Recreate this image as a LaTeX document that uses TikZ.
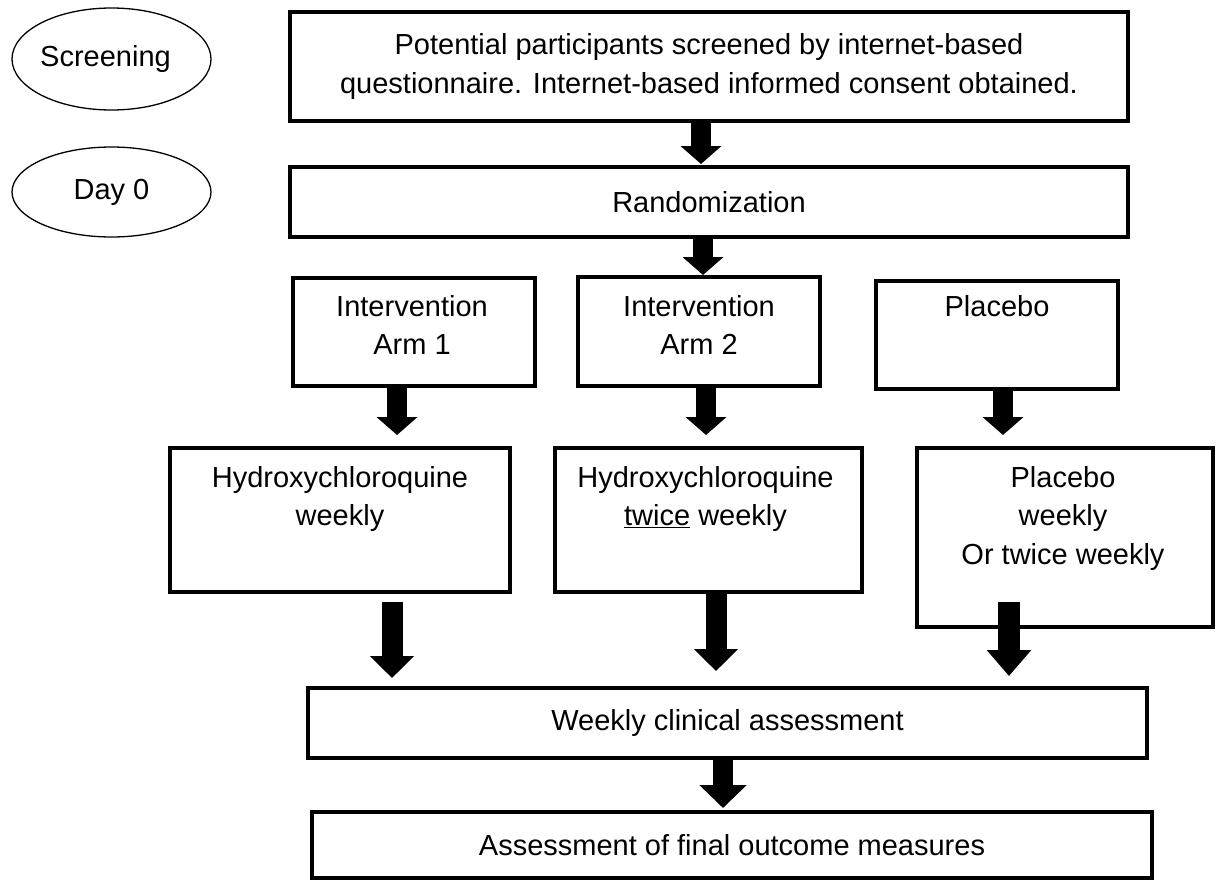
\documentclass[tikz,border=0pt]{standalone}
\usepackage{fontspec}
\setmainfont{Liberation Sans}
\usetikzlibrary{arrows.meta,shapes.geometric,calc}
\newcommand\diagfont{\fontsize{29}{38.5}\selectfont}
\begin{document}
\begin{tikzpicture}[x=1pt,y=-1pt,
  box/.style={draw, line width=4pt, rectangle, inner sep=0pt, align=center, font=\diagfont},
  phase/.style={draw, line width=1.3pt, ellipse, inner sep=0pt, font=\diagfont},
  txt/.style={inner sep=0pt, align=center, font=\diagfont, anchor=north},
  barrow/.style={line width=20pt, -{Triangle[width=40pt,length=18pt]}},
  barrowbig/.style={line width=21pt, -{Triangle[width=43pt,length=22pt]}}
]
\useasboundingbox (0,0) rectangle (1217,881);
\fill[white] (0,0) rectangle (1217,881);

% phase ellipses
\node[phase, minimum width=199pt, minimum height=102pt] (scr) at (111.5,59) {};
\node[inner sep=0pt, font=\diagfont] (scrt) at ($(scr.center)+(-6,0)$) {Screening};
\node[phase, minimum width=199pt, minimum height=90pt] (day0) at (111.5,192) {Day 0};

% boxes
\node[box, minimum width=838pt, minimum height=109pt] (screen) at (709,66.5)
  {Potential participants screened by internet-based\\questionnaire. Internet-based informed consent obtained.};
\node[box, minimum width=838pt, minimum height=70pt] (rand) at (709,202) {Randomization};
\node[box, minimum width=242pt, minimum height=108pt] (arm1) at (414,332) {};
\node[box, minimum width=242pt, minimum height=109pt] (arm2) at (699,331.5) {};
\node[box, minimum width=242pt, minimum height=108pt] (plac) at (997,335) {};
\node[box, minimum width=340pt, minimum height=144pt] (hyd1) at (340,520) {};
\node[box, minimum width=307pt, minimum height=144pt] (hyd2) at (708.5,520) {};
\node[box, minimum width=296pt, minimum height=179pt] (plac2) at (1065,537.5) {};
\node[box, minimum width=839pt, minimum height=70pt] (weekly) at (727.5,723) {Weekly clinical assessment};
\node[box, minimum width=840pt, minimum height=66pt] (final) at (732,845) {Assessment of final outcome measures};

% box texts
\node[txt] (arm1t) at ($(arm1.north)+(-2,19)$) {Intervention\\Arm 1};
\node[txt] (arm2t) at ($(arm2.north)+(0,20)$) {Intervention\\Arm 2};
\node[txt] (plact) at ($(plac.north)+(0,16)$) {Placebo};
\node[txt] (hyd1t) at ($(hyd1.north)+(0,20)$) {Hydroxychloroquine\\weekly};
\node[txt] (hyd2t) at ($(hyd2.north)+(-3,20)$) {Hydroxychloroquine\\\underline{twice} weekly};
\node[txt] (plac2t) at ($(plac2.north)+(-2,20)$) {Placebo\\weekly\\Or twice weekly};

% block arrows
\coordinate (a1s) at ($(screen.south)+(-8,0)$);
\coordinate (a1e) at ($(a1s |- rand.north)+(0,-1)$);
\draw[barrow] (a1s) -- (a1e);

\coordinate (a2s) at ($(rand.south)+(-6,0)$);
\coordinate (a2e) at (a2s |- arm2.north);
\draw[barrow] (a2s) -- (a2e);

\coordinate (a3s) at ($(arm1.south)+(-17,0)$);
\coordinate (a3e) at ($(a3s |- hyd1.north)+(0,-11)$);
\draw[barrow] (a3s) -- (a3e);

\coordinate (a4s) at ($(arm2.south)+(7,0)$);
\coordinate (a4e) at ($(a4s |- hyd2.north)+(0,-11)$);
\draw[barrow] (a4s) -- (a4e);

\coordinate (a5s) at ($(plac.south)+(6,0)$);
\coordinate (a5e) at ($(a5s |- plac2.north)+(0,-11)$);
\draw[barrow] (a5s) -- (a5e);

\coordinate (a6s) at ($(hyd1.south)+(52,8)$);
\coordinate (a6e) at ($(a6s |- weekly.north)+(0,-8)$);
\draw[barrowbig] (a6s) -- (a6e);

\coordinate (a7s) at ($(hyd2.south)+(7.5,0)$);
\coordinate (a7e) at ($(a7s |- weekly.north)+(0,-15)$);
\draw[barrowbig] (a7s) -- (a7e);

\coordinate (a8s) at ($(plac2.south)+(-56,-27)$);
\coordinate (a8e) at ($(a8s |- weekly.north)+(0,-10)$);
\draw[line width=22pt, -{Triangle[width=43pt,length=26pt]}] (a8s) -- (a8e);

\coordinate (a9s) at ($(weekly.south)+(-4.5,-3)$);
\coordinate (a9e) at ($(a9s |- final.north)+(0,-2)$);
\draw[line width=20pt, -{Triangle[width=46pt,length=23pt]}] (a9s) -- (a9e);
\end{tikzpicture}
\end{document}
